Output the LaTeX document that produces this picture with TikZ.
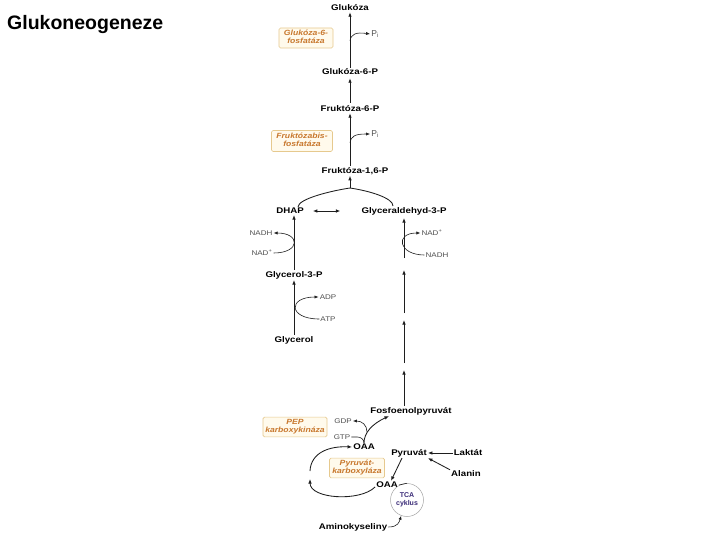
\documentclass[tikz,border=0pt]{standalone}
\usepackage{fontspec}
\setmainfont{Liberation Sans}
\usepackage{graphicx}
\usetikzlibrary{arrows.meta,calc}

\definecolor{enzt}{HTML}{C8782E}
\definecolor{enzb}{HTML}{E6C98E}
\definecolor{enzf}{HTML}{FFFAEC}
\definecolor{tcat}{HTML}{3B2C78}
\definecolor{ln}{HTML}{1E1E1E}
\definecolor{smc}{HTML}{505050}

\newcommand{\sx}[1]{\scalebox{1.18}[1]{#1}}
\newcommand{\twol}[2]{\scalebox{1.15}[1]{\begin{tabular}{@{}c@{}}#1\\#2\end{tabular}}}
\renewcommand{\arraystretch}{0.9}

\tikzset{
 met/.style={font=\fontsize{8.2}{10}\selectfont\bfseries, inner sep=1pt, text=black},
 cof/.style={font=\fontsize{6.8}{8}\selectfont, inner sep=1pt, text=smc},
 enz/.style={draw=enzb, fill=enzf, rounded corners=1.5pt, text=enzt, font=\fontsize{7.5}{9.3}\selectfont\bfseries\itshape, inner sep=1.5pt, line width=0.6pt},
 arr/.style={draw=ln, line width=0.85pt, -{Latex[length=4.5pt,width=3.6pt]}},
 sarr/.style={draw=ln, line width=0.6pt, -{Latex[length=4pt,width=3.2pt]}},
 plainln/.style={draw=ln, line width=0.6pt},
}

\begin{document}
\begin{tikzpicture}[x=1pt,y=-1pt]
\fill[white] (0,0) rectangle (720,540);
\path[use as bounding box] (0,0) rectangle (720,540);

\node[anchor=west, inner sep=0pt, font=\fontsize{19.5}{22}\selectfont\bfseries] (title) at (7,25) {Glukoneogeneze};

% metabolites
\node[met] (glc) at (350,8) {\sx{Glukóza}};
\node[met] (g6p) at (350,72) {\sx{Glukóza-6-P}};
\node[met] (f6p) at (350,109) {\sx{Fruktóza-6-P}};
\node[met] (f16p) at (355,171) {\sx{Fruktóza-1,6-P}};
\node[met] (dhap) at (290,211) {\sx{DHAP}};
\node[met] (g3p) at (404,211) {\sx{Glyceraldehyd-3-P}};
\node[met] (g3pol) at (294,275) {\sx{Glycerol-3-P}};
\node[met] (glyc) at (294,340) {\sx{Glycerol}};
\node[met] (pep) at (411,411) {\sx{Fosfoenolpyruvát}};
\node[met] (oaa1) at (364,447) {\sx{OAA}};
\node[met] (pyr) at (409,453) {\sx{Pyruvát}};
\node[met] (lak) at (468,453) {\sx{Laktát}};
\node[met] (ala) at (466,474) {\sx{Alanin}};
\node[met] (oaa2) at (387,485) {\sx{OAA}};
\node[met] (amk) at (353,527) {\sx{Aminokyseliny}};
\node[circle, draw=gray!70, line width=0.5pt, minimum size=33pt, inner sep=0pt, text=tcat,
      font=\fontsize{7}{8.5}\selectfont\bfseries, align=center] (tca) at (407,500) {TCA\\cyklus};

% cofactors
\node[cof, font=\fontsize{8.5}{9}\selectfont] (pi1) at (375,34) {P\textsubscript{i}};
\node[cof, font=\fontsize{8.5}{9}\selectfont] (pi2) at (375,134) {P\textsubscript{i}};
\node[cof] (nadh1) at (261,233) {\sx{NADH}};
\node[cof] (nad1) at (262,253) {\sx{NAD\textsuperscript{+}}};
\node[cof] (nad2) at (432,233) {\sx{NAD\textsuperscript{+}}};
\node[cof] (nadh2) at (437,255) {\sx{NADH}};
\node[cof] (adp) at (328,297) {\sx{ADP}};
\node[cof] (atp) at (328,319) {\sx{ATP}};
\node[cof] (gdp) at (343,421) {\sx{GDP}};
\node[cof] (gtp) at (342,437) {\sx{GTP}};

% enzymes
\node[enz, minimum width=54pt, minimum height=20pt] (e1) at (306,38) {\twol{Glukóza-6-}{fosfatáza}};
\node[enz, minimum width=61pt, minimum height=21pt] (e2) at (302,141) {\twol{Fruktózabis-}{fosfatáza}};
\node[enz, minimum width=64pt, minimum height=17pt] (e3) at (295,427) {\twol{PEP}{karboxykináza}};
\node[enz, minimum width=55pt, minimum height=18pt] (e4) at (357,468) {\twol{Pyruvát-}{karboxyláza}};

% upper chain
\draw[arr] (g6p.north) -- (glc.south);
\draw[arr, shorten <=2pt, shorten >=2pt] (f6p.north) -- (g6p.south);
\draw[arr] (f16p.north -| f6p.south) -- (f6p.south);
\coordinate (pl1) at (350,41);
\draw[sarr] (pl1) .. controls (351,34) and (356,32) .. (pi1.west);
\coordinate (pl2) at (350,143);
\draw[sarr] (pl2) .. controls (351,136) and (355,134) .. (pi2.west);

% merge of trioses
\coordinate (mj) at (350,188);
\draw[plainln, line width=0.85pt] ([xshift=8pt]dhap.north) .. controls +(0,-8) and (330,191) .. (mj);
\draw[plainln, line width=0.85pt] ([xshift=-11pt]g3p.north) .. controls +(0,-8) and (370,191) .. (mj);
\draw[arr] (mj) -- (f16p.south -| mj);
\draw[arr, {Latex[length=4.5pt,width=3.6pt]}-{Latex[length=4.5pt,width=3.6pt]}] ([xshift=8pt]dhap.east) -- ([xshift=-20pt]g3p.west);

% glycerol branch
\draw[arr] (g3pol.north) -- (g3pol.north |- dhap.south);
\draw[sarr] (nad1.east) .. controls +(27,0) and +(27,0) .. (nadh1.east);
\draw[arr] (glyc.north) -- (g3pol.south);
\draw[sarr] (atp.west) .. controls +(-31,0) and +(-31,0) .. (adp.west);

% right chain
\coordinate (ka) at (404,370);
\coordinate (kb) at (404,363);
\coordinate (kc) at (404,320);
\coordinate (kd) at (404,313);
\coordinate (ke) at (404,270);
\coordinate (kf) at (404,258);
\draw[arr] (pep.north -| ka) -- (ka);
\draw[arr] (kb) -- (kc);
\draw[arr] (kd) -- (ke);
\draw[arr, shorten >=2pt] (kf) -- (g3p.south -| kf);
\draw[sarr] (nadh2.west) .. controls +(-26,0) and +(-26,0) .. (nad2.west);

% PEP carboxykinase
\draw[arr] (oaa1.north) .. controls +(0,-10) and (372,424) .. ([xshift=-22pt]pep.south);
\draw[plainln] (gtp.east) -- ++(6,0) to[out=0,in=90] (oaa1.north);
\coordinate (gj) at (367,432);
\draw[sarr] (gj) .. controls (367,425) and (362,421) .. (gdp.east);

% loop
\coordinate (lpa) at (310,471);
\coordinate (lpb) at (310,479);
\draw[arr] (lpa) .. controls (311,452) and (330,446) .. (oaa1.west);
\draw[arr] ([yshift=-2pt]oaa2.west) .. controls (360,502) and (310,499) .. (lpb);

% pyruvate region
\draw[arr] ([xshift=-7pt]pyr.south) -- ([xshift=4pt]oaa2.north);
\draw[arr] (lak.west) -- (pyr.east);
\draw[arr] (ala.north west) -- (pyr.south east);
\draw[plainln] (oaa2.east) -- (tca.north);
\draw[sarr] (amk.east) .. controls +(10,0) and +(-2,6) .. (tca.250);
\end{tikzpicture}
\end{document}
